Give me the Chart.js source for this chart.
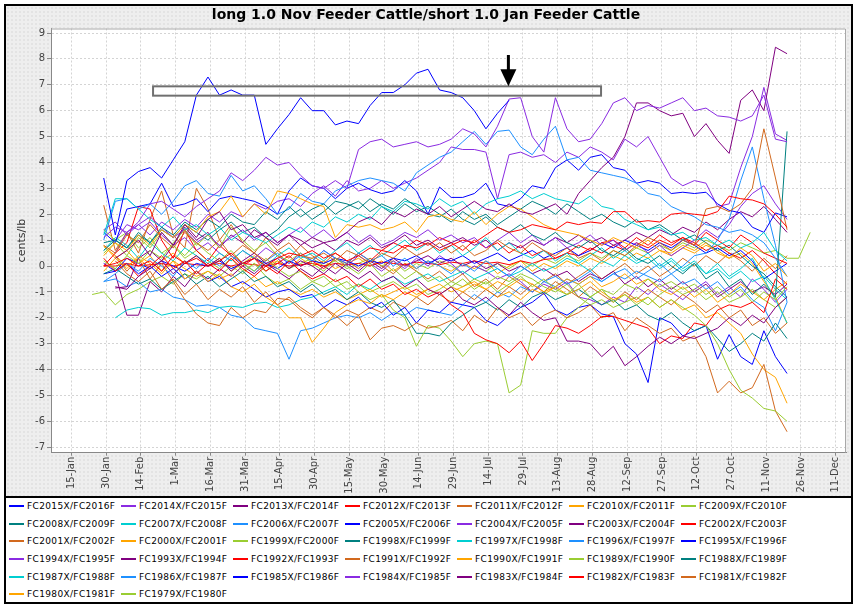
<!DOCTYPE html>
<html>
<head>
<meta charset="utf-8">
<script src="https://cdn.jsdelivr.net/npm/chart.js@4.4.0/dist/chart.umd.min.js"></script>
<style>
  body { margin: 0; background: #fff; }
  #frame {
    position: absolute; left: 4px; top: 4px; width: 845px; height: 596px;
    border: 2px solid #000;
    background-color: #eeeeee;
    background-image: radial-gradient(circle, #e2e2e2 0.7px, transparent 0.8px);
    background-size: 4px 4px;
  }
  #chart { position: absolute; left: 0; top: 0; }
  #legend {
    position: absolute; left: 0; top: 490px; width: 845px; height: 104px;
    border-top: 2px solid #000; background: #fff;
  }
  .item {
    position: absolute; height: 18px; width: 112px;
    display: flex; align-items: center; white-space: nowrap;
    font: 9px 'DejaVu Sans', sans-serif; letter-spacing: 0.35px; color: #000;
  }
  .swatch { flex: none; width: 15px; height: 2px; margin-right: 3px; }
</style>
</head>
<body>
<div id="frame">
  <canvas id="chart" width="845" height="490"></canvas>
  <div id="legend"></div>
</div>
<script>
// sampling days (day of year) shared by all series
const days = [24, 29, 34, 39, 44, 49, 54, 59, 64, 69, 74, 79, 84, 89, 94, 99, 104, 109, 114, 119,
  124, 129, 134, 139, 144, 149, 154, 159, 164, 169, 174, 179, 184, 189, 194, 199, 204, 209, 214, 219,
  224, 229, 234, 239, 244, 249, 254, 259, 264, 269, 274, 279, 284, 289, 294, 299, 304, 309, 314, 319,
  324, 329, 334];

const tickDays = [15, 30, 45, 60, 75, 90, 105, 120, 135, 150, 165, 180, 195, 210, 225, 240, 255, 270, 285, 300, 315, 330, 345];
const tickLabels = ['15-Jan', '30-Jan', '14-Feb', '1-Mar', '16-Mar', '31-Mar', '15-Apr', '30-Apr', '15-May', '30-May',
  '14-Jun', '29-Jun', '14-Jul', '29-Jul', '13-Aug', '28-Aug', '12-Sep', '27-Sep', '12-Oct', '27-Oct', '11-Nov', '26-Nov', '11-Dec'];
const valueTicks = [-7, -6, -5, -4, -3, -2, -1, 0, 1, 2, 3, 4, 5, 6, 7, 8, 9];

const seriesNames = ['FC2015X/FC2016F', 'FC2014X/FC2015F', 'FC2013X/FC2014F', 'FC2012X/FC2013F', 'FC2011X/FC2012F',
  'FC2010X/FC2011F', 'FC2009X/FC2010F', 'FC2008X/FC2009F', 'FC2007X/FC2008F', 'FC2006X/FC2007F',
  'FC2005X/FC2006F', 'FC2004X/FC2005F', 'FC2003X/FC2004F', 'FC2002X/FC2003F', 'FC2001X/FC2002F',
  'FC2000X/FC2001F', 'FC1999X/FC2000F', 'FC1998X/FC1999F', 'FC1997X/FC1998F', 'FC1996X/FC1997F',
  'FC1995X/FC1996F', 'FC1994X/FC1995F', 'FC1993X/FC1994F', 'FC1992X/FC1993F', 'FC1991X/FC1992F',
  'FC1990X/FC1991F', 'FC1989X/FC1990F', 'FC1988X/FC1989F', 'FC1987X/FC1988F', 'FC1986X/FC1987F',
  'FC1985X/FC1986F', 'FC1984X/FC1985F', 'FC1983X/FC1984F', 'FC1982X/FC1983F', 'FC1981X/FC1982F',
  'FC1980X/FC1981F', 'FC1979X/FC1980F'];

// spread values, cents/lb
const fc2015x = [null, 3.4, 1.2, 3.3, 3.65, 3.8, 3.4, 4.1, 4.8, 6.6, 7.3, 6.6, 6.8, 6.6, 6.6, 4.7, 5.3, 5.85, 6.5, 6.0,
  6.0, 5.45, 5.6, 5.5, 6.2, 6.7, 6.7, 7.0, 7.45, 7.6, 6.8, 6.7, 6.5, 6.0, 5.3, 5.9, 6.4, null, null, null,
  null, null, null, null, null, null, null, null, null, null, null, null, null, null, null, null, null, null, null, null,
  null, null, null];
const fc2014x = [null, 1.1, 1.5, 1.3, 1.7, 2.4, 2.5, 2.2, 1.9, 2.3, 2.6, 2.9, 3.6, 3.3, 3.7, 4.2, 3.9, 4.0, 3.5, 3.1,
  3.0, 3.3, 3.0, 4.5, 4.8, 4.9, 4.6, 4.7, 4.8, 4.6, 4.7, 4.9, 5.3, 5.1, 4.6, 5.4, 6.45, 6.5, 5.0, 4.4,
  6.5, 5.3, 4.8, 4.9, 5.5, 6.3, 6.5, 6.0, 6.2, 6.1, 6.3, 6.5, 6.0, 6.1, 5.8, 5.75, 5.6, 5.8, 6.6, 4.9,
  4.8, null, null];
const fc2013x = [null, null, 0.3, 0.6, 1.0, 0.4, 1.3, 0.8, 1.6, 1.1, 1.8, 2.1, 1.4, 1.6, 1.1, 1.3, 0.9, 1.2, 0.8, 1.1,
  0.9, 1.0, 1.3, 1.7, 1.9, 1.6, 2.1, 1.9, 2.2, 2.0, 2.3, 1.9, 2.2, 2.5, 2.2, 2.1, 2.4, 2.1, 2.0, 2.2,
  2.4, 2.0, 2.8, 3.3, 3.8, 4.2, 5.0, 6.3, 6.3, 6.0, 5.8, 5.9, 5.0, 5.5, 4.85, 4.35, 6.4, 6.8, 6.0, 8.45,
  8.2, null, null];
const fc2012x = [null, 0.0, 0.1, 0.3, 0.0, 0.2, -0.2, 0.4, 0.1, 0.3, 0.0, 0.2, 0.5, 0.1, 0.3, 0.0, 0.3, 0.5, 0.4, 0.6,
  0.3, 0.5, 0.2, 0.4, 0.7, 0.6, 0.5, 0.8, 0.7, 0.9, 0.6, 0.8, 1.0, 0.9, 1.2, 1.5, 1.3, 1.4, 1.6, 1.5,
  1.4, 1.7, 1.6, 1.7, 1.65, 2.1, 2.1, 1.7, 1.75, 1.7, 2.0, 2.05, 2.0, 1.95, 2.1, 2.7, 2.6, 2.55, 2.4, 2.0,
  1.5, null, null];
const fc2011x = [null, 0.8, 0.5, 1.2, 0.9, 1.6, 1.1, 0.7, 1.3, 0.9, 0.6, 1.0, 0.4, 0.8, 0.5, 0.2, 0.6, 0.9, 0.4, 0.3,
  0.5, 0.2, 0.6, 0.4, 0.1, 0.5, 0.3, 0.7, 0.4, 0.6, 0.9, 0.5, 0.8, 0.4, 0.6, 1.0, 0.7, 0.5, 0.9, 0.6,
  0.4, 0.7, 0.3, 0.5, 0.2, 0.6, 0.4, 0.8, 1.1, 0.9, 0.6, 1.0, 0.8, 2.2, 2.3, 2.1, 2.4, 3.0, 5.3, 3.4,
  1.4, null, null];
const fc2010x = [null, 0.4, 0.9, 0.6, 1.2, 0.8, 1.4, 1.1, 1.6, 1.3, 1.9, 2.1, 2.7, 1.9, 2.4, 2.0, 2.9, 2.8, 2.6, 2.4,
  2.3, 1.1, 1.6, 1.5, 1.6, 1.4, 1.5, 1.7, 1.3, 1.9, 2.0, 1.8, 1.7, 2.1, 1.6, 2.0, 2.3, 2.2, 1.9, 1.6,
  1.4, 1.3, 1.2, 1.0, 0.8, 1.1, 0.9, 0.7, 1.0, 0.6, 0.5, 0.8, 0.6, 0.9, 0.5, 0.3, 0.7, 0.4, -0.2, 0.1,
  -0.4, null, null];
const fc2009x = [null, 0.2, -0.1, 0.4, 0.1, 0.6, 0.3, 0.9, 1.4, 0.8, 1.2, 0.7, 1.5, 1.0, 0.6, 0.9, 0.4, 0.2, 0.5, 0.1,
  -0.2, 0.3, 0.0, -0.3, 0.1, -0.4, -0.1, -0.5, -0.2, -0.6, -0.4, -0.8, -0.5, -0.9, -0.6, -1.0, -0.7, -0.4, -0.8, -0.5,
  -0.9, -1.1, -0.7, -1.2, -0.9, -1.4, -1.1, -1.5, -1.2, -1.6, -1.3, -1.6, -1.9, -2.3, -3.0, -4.0, -4.8, -5.1, -5.5, -5.6,
  -6.0, null, null];
const fc2008x = [null, 0.6, 1.0, 0.7, 1.3, 0.9, 1.5, 1.2, 1.7, 1.4, 1.8, 1.5, 2.0, 1.7, 1.6, 2.1, 1.8, 2.3, 1.9, 2.2,
  2.4, 2.0, 2.3, 2.5, 2.1, 2.4, 2.2, 2.6, 2.3, 2.0, 1.9, 2.2, 1.8, 1.6, 1.9, 1.5, 1.3, 1.6, 1.2, 1.0,
  1.3, 0.9, 0.7, 1.0, 0.6, 0.4, 0.7, 0.3, 0.1, 0.4, 0.0, -0.3, 0.1, -0.5, -0.2, -0.8, -0.5, -1.1, -0.7, -1.2,
  5.2, null, null];
const fc2007x = [null, 1.2, 2.6, 2.6, 2.2, 1.8, 1.5, 1.9, 1.4, 1.6, 1.2, 1.5, 1.0, 1.3, 1.1, 0.9, 1.2, 1.5, 1.3, 1.7,
  1.5, 1.9, 1.7, 2.0, 1.8, 2.3, 2.1, 2.5, 2.4, 2.2, 2.6, 2.3, 2.5, 2.0, 2.4, 2.6, 2.7, 2.9, 2.6, 2.8,
  2.6, 2.5, 2.4, 2.7, 2.3, 2.2, 1.8, 1.6, 1.4, 1.5, 1.2, 1.3, 1.0, 1.1, 0.8, 1.0, 0.7, 0.9, 1.3, 0.6,
  0.2, null, null];
const fc2006x = [null, 1.0, 2.5, 2.6, 2.2, 2.4, 2.0, 2.5, 3.1, 3.3, 2.8, 2.7, 3.5, 2.9, 3.1, 2.6, 2.0, 2.2, 2.8, 2.5,
  2.4, 2.9, 3.1, 3.3, 3.4, 3.3, 3.2, 2.9, 3.6, 3.9, 4.2, 4.4, 4.8, 5.2, 4.7, 5.2, 5.25, 4.6, 4.3, 4.9,
  5.4, 4.1, 4.2, 3.7, 3.6, 3.5, 3.4, 3.2, 2.8, 2.7, 2.3, 2.1, 1.9, 1.6, 1.5, 1.3, 1.4, 1.2, 0.9, 0.3,
  -0.4, null, null];
const fc2005x = [null, 1.3, 0.9, 2.2, 2.3, 2.4, 3.2, 2.3, 2.4, 2.6, 2.1, 2.6, 2.7, 2.6, 2.5, 2.3, 2.0, 2.9, 3.4, 3.1,
  3.0, 2.6, 3.0, 3.2, 2.95, 2.8, 2.9, 3.3, 2.9, 2.0, 3.05, 2.65, 2.65, 2.8, 3.2, 2.4, 2.3, 2.6, 3.1, 3.0,
  3.8, 4.1, 3.7, 4.2, 4.3, 3.8, 3.7, 3.2, 3.3, 3.2, 2.8, 2.85, 2.8, 2.85, 2.4, 2.15, 2.05, 1.5, 1.3, 2.05,
  1.9, null, null];
const fc2004x = [null, null, 0.5, 1.3, 1.6, 1.2, 1.7, 1.4, 1.8, 1.5, 2.0, 1.7, 2.1, 1.9, 2.4, 2.2, 2.5, 2.6, 2.3, 2.8,
  3.1, 2.7, 3.3, 2.9, 3.0, 3.3, 3.0, 3.2, 3.4, 3.7, 4.0, 4.6, 4.5, 4.5, 4.4, 2.6, 4.3, 4.4, 4.2, 4.3,
  4.0, 4.4, 4.2, 4.6, 4.4, 4.1, 4.9, 4.6, 5.0, 4.2, 3.4, 3.1, 3.3, 3.2, 2.3, 2.4, 3.8, 5.0, 6.9, 5.1,
  4.85, null, null];
const fc2003x = [null, null, -0.8, -0.9, -0.4, -0.1, 0.2, -0.3, 0.1, 0.4, 0.0, 0.3, -0.2, 0.2, 0.5, 0.1, 0.3, -0.1, 0.2, 0.0,
  -0.3, 0.1, -0.2, -0.5, -0.2, -0.6, -0.4, -0.8, -0.5, -0.9, -1.1, -0.8, -1.3, -1.5, -1.2, -1.6, -1.9, -1.4, -1.8, -2.1,
  -2.0, -2.9, -2.9, -3.0, -3.5, -3.1, -3.85, -3.5, -3.1, -2.75, -3.0, -2.7, -2.8, -2.6, -2.4, -2.0, -2.3, -1.9, -2.2, -1.6,
  -1.2, null, null];
const fc2002x = [null, 0.3, -0.2, 0.1, -0.4, 0.0, 0.4, -0.1, 0.2, -0.3, 0.1, -0.2, 0.3, -0.1, -0.4, 0.0, -0.3, 0.2, -0.2, -0.5,
  -0.3, -0.6, -0.4, -0.8, -0.5, -0.9, -0.7, -1.1, -0.9, -1.2, -1.0, -1.5, -1.8, -2.6, -2.85, -3.0, -3.35, -2.9, -3.65, -3.0,
  -2.3, -2.4, -2.6, -2.3, -1.95, -1.95, -2.1, -2.25, -2.4, -3.0, -2.7, -2.8, -2.2, -2.3, -1.7, -1.5, -1.6, -1.4, -1.8, -0.5,
  -0.9, null, null];
const fc2001x = [null, null, 0.2, -0.3, -0.6, -0.2, -0.9, -0.5, -1.1, -0.7, -1.3, -0.9, -1.2, -0.8, -1.4, -1.0, -1.5, -1.2, -1.6, -1.9,
  -1.6, -2.0, -1.7, -1.9, -2.85, -2.4, -2.3, -2.5, -2.2, -2.4, -2.3, -2.1, -2.5, -1.9, -2.2, -1.6, -2.0, -1.8, -2.3, -1.9,
  -1.7, -2.0, -1.8, -1.5, -2.0, -1.8, -2.5, -2.0, -2.3, -2.6, -2.4, -2.9, -2.7, -3.5, -4.9, -4.45, -4.9, -4.7, -3.8, -5.6,
  -6.4, null, null];
const fc2000x = [null, -0.2, 0.3, -0.1, 0.4, 0.1, -0.3, 0.2, -0.5, -0.2, -0.6, -0.3, -0.8, -1.0, -0.7, -1.2, -1.5, -2.0, -2.0, -2.95,
  -2.4, -1.8, -1.5, -1.3, -1.45, -1.1, -1.3, -1.0, -1.2, -0.9, -1.1, -0.8, -1.0, -0.7, -0.9, -0.6, -0.8, -0.5, -0.7, -1.0,
  -0.8, -1.1, -0.9, -0.6, -1.0, -1.3, -1.1, -1.4, -1.2, -1.6, -1.3, -1.7, -1.5, -2.0, -1.8, -2.2, -2.6, -3.4, -4.0, -4.3,
  -5.3, null, null];
const fc1999x = [null, 0.5, 0.9, 0.4, 1.1, 0.7, 1.3, 0.8, 0.4, 0.9, 0.5, 0.2, 0.6, 0.1, -0.2, 0.3, -0.1, -0.4, -0.2, -0.6,
  -0.4, -0.8, -0.6, -1.0, -1.3, -1.1, -1.7, -2.0, -3.1, -2.3, -2.4, -2.9, -3.5, -3.0, -2.9, -3.0, -4.9, -4.6, -2.5, -2.6,
  -2.6, -2.0, -1.6, -1.2, -0.9, -1.1, -0.7, -0.9, -0.5, -0.8, -0.6, -0.9, -0.7, -1.1, -0.8, -1.2, -0.9, -1.4, -1.0, -1.3,
  -0.8, null, null];
const fc1998x = [null, -0.3, -0.1, -0.4, -0.7, -0.5, -0.9, -0.6, -0.3, -0.7, -0.4, -0.8, -0.5, -0.2, -0.6, -0.4, -0.8, -0.6, -1.0, -0.7,
  -1.1, -0.9, -1.3, -1.0, -1.4, -1.6, -1.3, -1.9, -2.6, -2.6, -2.7, -2.2, -1.9, -1.6, -1.4, -1.7, -1.3, -1.6, -1.2, -1.0,
  -1.3, -1.1, -0.9, -1.2, -1.5, -1.3, -1.7, -1.5, -1.9, -2.1, -1.8, -2.2, -2.5, -2.3, -2.8, -3.3, -3.0, -2.6, -2.9, -2.2,
  -2.8, null, null];
const fc1997x = [null, 0.6, 1.1, 0.8, 0.3, 0.9, 0.5, 0.2, 0.7, 0.4, 0.1, 0.5, 0.2, 0.6, 0.3, 0.0, 0.4, 0.7, 0.3, 0.5,
  0.2, 0.6, 0.9, 0.5, 0.8, 0.4, 0.7, 1.0, 0.6, 0.9, 0.5, 0.8, 0.4, 0.7, 1.1, 0.6, 0.9, 0.5, 0.3, 0.6,
  0.2, 0.5, 0.1, 0.4, 0.7, 0.3, 0.6, 0.2, 0.5, 0.0, 0.3, -0.1, 0.2, -0.3, 0.1, -0.4, -0.1, 0.3, -0.5, -1.3,
  -2.2, null, null];
const fc1996x = [null, -0.6, -0.3, 0.1, -0.2, 0.3, 0.0, -0.4, 0.2, -0.1, 0.3, 0.0, 0.4, 0.1, -0.2, 0.2, 0.5, 0.1, 0.4, 0.2,
  0.6, 0.3, 0.1, 0.5, 0.2, 0.4, 0.0, 0.3, -0.1, 0.2, 0.0, -0.3, 0.1, -0.2, 0.2, -0.1, -0.4, 0.0, -0.3, -0.6,
  -0.4, -0.7, -0.5, -0.2, -0.6, -0.3, -0.1, -0.5, -0.2, 0.1, -0.3, 0.0, 0.4, 0.5, 1.0, 1.8, 3.3, 4.6, 2.6, 0.8,
  -1.4, null, null];
const fc1995x = [null, -0.3, -0.2, 0.1, -0.3, 0.0, -0.4, -0.1, -0.5, -0.2, -0.6, -0.4, -0.8, -0.6, -0.9, -1.2, -1.0, -0.9, -1.2, -1.1,
  -1.6, -1.3, -1.5, -1.2, -1.65, -1.4, -1.9, -1.6, -2.2, -1.7, -1.8, -1.4, -1.5, -1.6, -2.1, -2.3, -1.9, -1.6, -1.4, -1.05,
  -1.7, -1.9, -1.6, -1.5, -1.85, -1.95, -3.0, -3.4, -4.5, -2.0, -2.2, -2.7, -2.5, -2.3, -3.6, -2.65, -3.5, -3.8, -2.5, -3.5,
  -4.15, null, null];
const fc1994x = [null, 1.4, 1.7, 1.2, 1.6, 1.9, 1.5, 1.1, 1.4, 0.9, 1.2, 0.8, 1.1, 1.4, 1.0, 1.3, 0.9, 1.2, 1.5, 1.1,
  1.4, 1.0, 1.3, 0.9, 1.2, 0.8, 1.0, 1.3, 1.1, 1.4, 1.0, 1.2, 0.9, 1.1, 0.7, 1.0, 1.3, 0.9, 1.2, 0.8,
  1.1, 0.7, 0.9, 1.2, 0.8, 1.0, 0.6, 0.9, 0.5, 0.8, 0.4, 0.7, 1.0, 1.4, 1.1, 1.6, 2.3, 2.8, 3.1, 2.4,
  1.8, null, null];
const fc1993x = [null, null, -0.85, -0.8, 0.3, 0.6, 0.2, 0.8, 1.5, 1.0, 1.3, 0.7, 1.2, 0.9, 1.4, 1.1, 0.8, 1.2, 1.0, 0.7,
  0.9, 0.6, 1.0, 0.8, 1.1, 0.7, 0.9, 1.2, 0.8, 1.0, 0.7, 0.9, 1.1, 0.8, 1.0, 0.6, 0.9, 0.7, 1.0, 0.8,
  1.1, 0.9, 1.2, 0.9, 1.1, 0.8, 1.0, 1.3, 1.1, 1.4, 1.2, 1.5, 1.3, 1.7, 1.4, 1.8, 2.1, 1.9, 2.3, 1.8,
  1.3, null, null];
const fc1992x = [null, 0.0, 0.5, 0.9, 2.3, 2.2, 1.0, 0.3, 1.4, 0.6, 0.2, 0.8, 0.4, 0.0, 0.3, -0.2, 0.1, 0.4, 0.0, 0.2,
  -0.1, 0.3, 0.1, 0.5, 0.2, 0.6, 0.9, 0.7, 1.0, 0.8, 1.1, 0.9, 0.6, 1.0, 0.7, 0.9, 0.5, 0.8, 0.4, 0.6,
  0.3, 0.5, 0.8, 0.6, 0.9, 1.0, 0.7, 1.1, 0.8, 1.2, 0.9, 1.1, 0.8, 1.3, 1.0, 0.7, 1.2, 0.9, 0.5, 0.3,
  0.1, null, null];
const fc1991x = [null, null, 0.4, -0.2, 0.3, -0.5, 0.1, -0.6, -1.3, -1.85, -2.2, -2.3, -1.6, -2.0, -1.7, -1.8, -1.25, -1.3, -1.7, -2.0,
  -1.6, -1.9, -2.3, -1.9, -1.6, -1.8, -1.4, -1.6, -1.2, -1.5, -1.1, -1.4, -1.0, -1.3, -0.9, -1.2, -0.8, -1.1, -0.7, -1.0,
  -0.6, -0.9, -1.2, -0.8, -1.1, -1.4, -1.0, -1.3, -0.9, -1.2, -1.5, -1.1, -1.4, -1.8, -1.5, -2.0, -1.7, -2.3, -2.0, -2.6,
  -2.2, null, null];
const fc1990x = [null, 0.8, 0.3, 0.6, 0.1, 0.4, -0.2, 0.2, -0.1, -0.4, -0.2, -0.5, -0.3, -0.7, -0.4, -0.8, -0.6, -0.9, -1.1, -0.9,
  -1.2, -1.0, -1.3, -1.1, -0.9, -1.2, -1.0, -0.8, -1.1, -0.9, -0.7, -1.0, -0.8, -0.6, -0.9, -1.2, -1.0, -1.3, -0.9, -1.1,
  -0.8, -0.5, -0.7, -0.4, -0.8, -0.6, -0.3, -0.7, -0.5, -0.9, -1.1, -0.8, -1.2, -0.9, -1.4, -1.1, -0.7, -1.0, -1.3, -0.9,
  -0.6, null, null];
const fc1989x = [null, 1.4, 1.0, 1.3, 0.7, 1.1, 0.5, 0.8, 0.3, 0.6, 0.2, -0.1, 0.3, -0.2, 0.1, -0.4, -0.7, -0.5, -0.9, -0.6,
  -0.8, -0.5, -0.9, -0.7, -1.0, -0.8, -0.6, -0.9, -0.7, -1.1, -0.9, -0.6, -0.8, -0.5, -0.7, -0.4, -0.6, -0.3, -0.5, -0.8,
  -1.0, -0.7, -1.2, -1.5, -1.3, -1.6, -1.4, -1.2, -1.5, -1.1, -0.8, -1.1, -0.9, -1.3, -1.0, -1.4, -1.2, -0.9, -1.3, -1.6,
  -1.2, null, null];
const fc1988x = [null, 0.9, 1.0, 0.7, 1.2, 0.9, 1.4, 1.1, 1.6, 1.3, 1.0, 1.4, 1.7, 1.3, 1.5, 1.1, 1.4, 1.9, 2.2, 1.8,
  2.1, 2.5, 2.4, 2.2, 2.6, 2.3, 2.0, 2.4, 2.1, 2.3, 2.0, 1.7, 2.1, 1.8, 2.0, 1.6, 1.9, 2.2, 2.5, 2.3,
  2.0, 2.4, 2.1, 1.8, 2.0, 1.7, 1.5, 1.8, 1.4, 1.6, 1.3, 1.0, 1.2, 0.9, 0.6, 0.8, 0.4, 0.0, -0.3, -0.8,
  -1.2, null, null];
const fc1987x = [null, null, -2.0, -1.7, -1.6, -1.65, -1.9, -1.8, -1.8, -1.7, -1.8, -1.6, -1.55, -1.6, -1.45, -1.4, -1.6, -1.5, -1.3, -1.2,
  -1.0, -0.8, -1.1, -0.7, -0.9, -0.6, -0.4, -0.7, -0.5, -0.3, -0.6, -0.4, -0.2, -0.5, -0.3, -0.1, -0.4, -0.2, 0.1, -0.2,
  0.0, 0.3, 0.1, -0.2, 0.2, 0.0, 0.4, 0.1, 0.3, -0.1, 0.2, -0.2, 0.1, -0.3, -0.1, -0.5, -0.2, -0.6, -0.4, -0.9,
  -1.3, null, null];
const fc1986x = [null, -0.6, -0.5, -0.8, -0.6, -1.0, -0.9, -1.2, -1.3, -1.55, -1.5, -1.6, -1.9, -2.0, -2.4, -2.5, -2.6, -3.6, -2.5, -2.4,
  -2.2, -2.0, -1.9, -2.0, -1.8, -2.1, -1.8, -1.9, -1.6, -1.7, -1.8, -1.9, -1.5, -1.1, -1.4, -1.0, -1.2, -0.8, -1.0, -0.6,
  -0.8, -0.5, -0.7, -0.4, -0.6, -0.3, -0.5, -0.2, -0.4, -0.6, -0.3, -0.7, -0.5, -0.9, -0.6, -1.1, -0.8, -1.3, -1.6, -2.5,
  -1.4, null, null];
const fc1985x = [null, 0.1, -0.2, 0.3, 0.1, -0.1, 0.2, 0.0, -0.2, 0.1, 0.0, 0.2, -0.1, 0.1, 0.3, 0.1, -0.1, 0.2, 0.0, 0.2,
  0.1, 0.3, 0.2, 0.0, 0.2, 0.1, 0.3, 0.2, 0.4, 0.1, 0.3, 0.2, 0.4, 0.1, 0.3, 0.5, 0.2, 0.4, 0.6, 0.3,
  0.5, 0.7, 0.4, 0.6, 0.9, 0.7, 1.0, 0.8, 0.6, 0.9, 0.7, 1.0, 0.8, 0.5, 0.7, 0.4, 0.6, 0.2, -0.5, -0.2,
  0.1, null, null];
const fc1984x = [null, null, 1.0, 1.6, 1.4, 1.7, 1.2, 0.8, 1.1, 0.6, 0.9, 0.5, 0.2, 0.6, 0.3, 0.7, 0.4, 0.1, 0.5, 0.2,
  0.6, 0.3, 0.0, 0.4, 0.1, -0.2, 0.2, -0.1, 0.3, 0.0, 0.4, 0.1, -0.3, 0.0, -0.2, -0.5, -0.3, -0.6, -1.0, -0.7,
  -0.9, -0.6, -1.2, -1.3, -1.5, -1.2, -1.4, -0.8, -1.1, -0.7, -1.0, -1.3, -0.9, -0.6, -1.1, -0.8, -1.2, -0.5, -0.9, -1.4,
  -0.9, null, null];
const fc1983x = [null, null, -0.3, -1.9, -1.9, -0.6, -1.0, -0.4, -0.8, -0.2, -0.5, -0.1, -0.4, 0.0, -0.3, 0.1, -0.2, -0.5, -0.1, -0.4,
  0.0, -0.3, 0.1, -0.2, 0.2, -0.1, 0.3, 0.0, 0.2, 0.4, 0.1, 0.3, 0.0, 0.2, -0.1, 0.1, -0.2, 0.0, -0.3, -0.1,
  -0.4, -0.2, -0.6, -0.3, -0.5, -0.2, -0.7, -0.4, -0.8, -0.5, -0.9, -0.6, -1.0, -0.7, -1.2, -0.9, -0.6, -1.0, -0.8, -1.1,
  -0.7, null, null];
const fc1982x = [null, 0.0, 0.0, 0.1, 0.0, 0.05, 0.1, 0.0, 0.1, 0.05, 0.0, 0.1, 0.0, 0.1, 0.05, 0.0, 0.1, 0.0, 0.05, 0.1,
  0.0, 0.1, 0.05, 0.1, 0.0, 0.15, 0.1, 0.05, 0.15, 0.1, 0.05, 0.15, 0.1, 0.2, 0.1, 0.15, 0.05, 0.2, 0.1, 0.25,
  0.3, 0.5, 0.4, 0.7, 0.5, 0.8, 0.6, 0.9, 0.7, 1.0, 0.8, 1.1, 0.9, 0.6, 0.8, 0.5, 0.3, 0.6, 0.2, -0.3,
  -0.7, null, null];
const fc1981x = [null, 2.35, 0.6, 1.3, 0.5, 1.8, 2.9, 1.2, 0.7, 3.0, 2.2, 1.0, 1.6, 0.9, 0.5, 1.1, 0.6, 0.3, 0.8, 0.4,
  0.1, 0.5, 0.2, -0.1, 0.3, 0.0, -0.3, 0.1, -0.2, -0.5, -0.2, -0.6, -0.3, -0.8, -0.5, -0.9, -0.4, -0.7, -1.0, -0.6,
  -0.3, -0.7, -0.4, -0.1, -0.5, -0.2, 0.1, -0.3, 0.0, -0.4, -0.1, 0.3, 0.0, 0.4, 0.1, 0.5, 0.2, -0.2, 0.3, -0.1,
  0.4, null, null];
const fc1980x = [null, 0.75, 0.4, 0.0, 0.3, -0.1, 0.2, 0.5, 0.1, 0.4, 0.0, 0.3, -0.2, 0.1, 0.4, 0.0, 0.2, -0.1, 0.3, 0.0,
  0.2, -0.1, 0.1, 0.3, 0.0, 0.2, -0.2, 0.1, -0.1, 0.2, 0.0, -0.2, 0.1, -0.1, 0.2, -0.3, 0.0, 0.2, -0.2, 0.1,
  -0.1, 0.2, 0.0, 0.3, 0.1, 0.4, 0.2, 0.5, 0.3, 0.6, 0.4, 0.7, 0.5, 0.8, 0.6, 0.3, 0.5, 0.1, -0.6, -1.2,
  -2.2, null, null];
const fc1979x = [-1.1, -1.0, -1.5, -1.1, -0.9, -0.6, -0.4, -0.7, -0.3, -0.5, -0.2, -0.4, 0.0, -0.3, 0.1, -0.2, 0.2, -0.1, 0.1, 0.3,
  0.0, 0.2, -0.1, 0.1, 0.3, 0.0, 0.2, -0.2, 0.1, -0.1, 0.2, 0.0, -0.3, 0.0, -0.2, 0.1, -0.1, 0.2, 0.0, 0.3,
  0.1, 0.4, 0.2, 0.5, 0.3, 0.6, 0.4, 0.7, 0.5, 0.8, 0.6, 0.9, 0.7, 1.0, 0.8, 0.6, 0.9, 0.7, 0.5, 0.6,
  0.3, 0.3, 1.3];

const seriesValues = [fc2015x, fc2014x, fc2013x, fc2012x, fc2011x, fc2010x, fc2009x, fc2008x, fc2007x, fc2006x,
  fc2005x, fc2004x, fc2003x, fc2002x, fc2001x, fc2000x, fc1999x, fc1998x, fc1997x, fc1996x,
  fc1995x, fc1994x, fc1993x, fc1992x, fc1991x, fc1990x, fc1989x, fc1988x, fc1987x, fc1986x,
  fc1985x, fc1984x, fc1983x, fc1982x, fc1981x, fc1980x, fc1979x];

// marker box and arrow, in chart units (day of year, cents/lb)
const boxDays = [50.3, 243.7];
const boxLevels = [6.58, 6.94];
const arrowDay = 203.7;
const arrowLevels = [8.15, 6.94];

const palette = ['#0000ff', '#8a2be2', '#800080', '#ff0000', '#d2691e', '#ffa500', '#9acd32', '#008080', '#00ced1', '#1e90ff'];

Chart.defaults.font.family = "'DejaVu Sans', sans-serif";

const plotDecor = {
  id: 'plotDecor',
  beforeDraw(chart) {
    const { ctx, chartArea: a } = chart;
    ctx.save();
    ctx.fillStyle = '#ffffff';
    ctx.fillRect(a.left, a.top, a.right - a.left, a.bottom - a.top);
    ctx.restore();
  },
  afterDatasetsDraw(chart) {
    const { ctx, scales: { x, y } } = chart;
    const x0 = x.getPixelForValue(boxDays[0]);
    const x1 = x.getPixelForValue(boxDays[1]);
    const yTop = y.getPixelForValue(boxLevels[1]);
    const yBot = y.getPixelForValue(boxLevels[0]);
    ctx.save();
    ctx.strokeStyle = '#707070';
    ctx.lineWidth = 2;
    ctx.strokeRect(x0, yTop, x1 - x0, yBot - yTop);

    const ax = x.getPixelForValue(arrowDay);
    const aTop = y.getPixelForValue(arrowLevels[0]);
    const aTip = y.getPixelForValue(arrowLevels[1]);
    ctx.strokeStyle = '#000';
    ctx.lineWidth = 3;
    ctx.beginPath();
    ctx.moveTo(ax, aTop);
    ctx.lineTo(ax, aTip - 14);
    ctx.stroke();
    ctx.fillStyle = '#000';
    ctx.beginPath();
    ctx.moveTo(ax - 8, aTip - 17);
    ctx.lineTo(ax + 8, aTip - 17);
    ctx.lineTo(ax, aTip);
    ctx.closePath();
    ctx.fill();
    ctx.restore();
  },
  afterDraw(chart) {
    const { ctx, chartArea: a } = chart;
    ctx.save();
    ctx.strokeStyle = '#a8a8a8';
    ctx.lineWidth = 1;
    ctx.beginPath();
    ctx.moveTo(a.left, a.top + 0.5);
    ctx.lineTo(a.right - 0.5, a.top + 0.5);
    ctx.lineTo(a.right - 0.5, a.bottom);
    ctx.stroke();
    ctx.restore();
  }
};

const datasets = seriesNames.map((name, i) => ({
  label: name,
  data: seriesValues[i],
  borderColor: palette[i % palette.length],
  backgroundColor: palette[i % palette.length],
  borderWidth: 1,
  pointRadius: 0,
  pointHoverRadius: 0,
  fill: false,
  tension: 0,
  spanGaps: false,
  borderJoinStyle: 'bevel'
}));

new Chart(document.getElementById('chart'), {
  type: 'line',
  data: { labels: days, datasets: datasets },
  options: {
    responsive: false,
    animation: false,
    events: [],
    layout: { padding: { top: 0, right: 5, bottom: 0, left: 0 } },
    plugins: {
      legend: { display: false },
      tooltip: { enabled: false },
      title: {
        display: true,
        text: 'long 1.0 Nov Feeder Cattle/short 1.0 Jan Feeder Cattle',
        color: '#000',
        font: { size: 14, weight: 'bold' },
        padding: { top: 1, bottom: 4.7 }
      }
    },
    scales: {
      x: {
        type: 'linear',
        min: 6.24,
        max: 349.45,
        afterBuildTicks: (scale) => { scale.ticks = tickDays.map(v => ({ value: v })); },
        afterFit: (scale) => { scale.height = 43.3; scale.paddingLeft = 0; scale.paddingRight = 0; },
        ticks: {
          autoSkip: false,
          minRotation: 90,
          maxRotation: 90,
          padding: 1,
          color: '#444',
          font: { size: 10 },
          callback: (v) => tickLabels[tickDays.indexOf(v)]
        },
        grid: { color: '#d4d4d4', tickLength: 3, tickColor: '#888', tickBorderDash: [] },
        border: { color: '#888', width: 1, dash: [2, 2] }
      },
      y: {
        min: -7.21,
        max: 9.174,
        afterBuildTicks: (scale) => { scale.ticks = valueTicks.map(v => ({ value: v })); },
        afterFit: (scale) => { scale.width = 45; scale.paddingTop = 0; scale.paddingBottom = 0; },
        ticks: { padding: 2, color: '#444', font: { size: 10 } },
        grid: { color: '#d4d4d4', tickLength: 4, tickColor: '#888', tickBorderDash: [] },
        border: { color: '#888', width: 1, dash: [2, 2] },
        title: { display: true, text: 'cents/lb', color: '#333', font: { size: 11 }, padding: { top: 10, bottom: 0 } }
      }
    }
  },
  plugins: [plotDecor]
});

// legend in a fixed 7-column grid, built from the datasets
const legend = document.getElementById('legend');
datasets.forEach((ds, i) => {
  const item = document.createElement('div');
  item.className = 'item';
  item.style.left = (3 + (i % 7) * 112) + 'px';
  item.style.top = Math.round(-1 + Math.floor(i / 7) * 17.65) + 'px';
  const swatch = document.createElement('span');
  swatch.className = 'swatch';
  swatch.style.background = ds.borderColor;
  const text = document.createElement('span');
  text.textContent = ds.label;
  item.append(swatch, text);
  legend.append(item);
});
</script>
</body>
</html>
